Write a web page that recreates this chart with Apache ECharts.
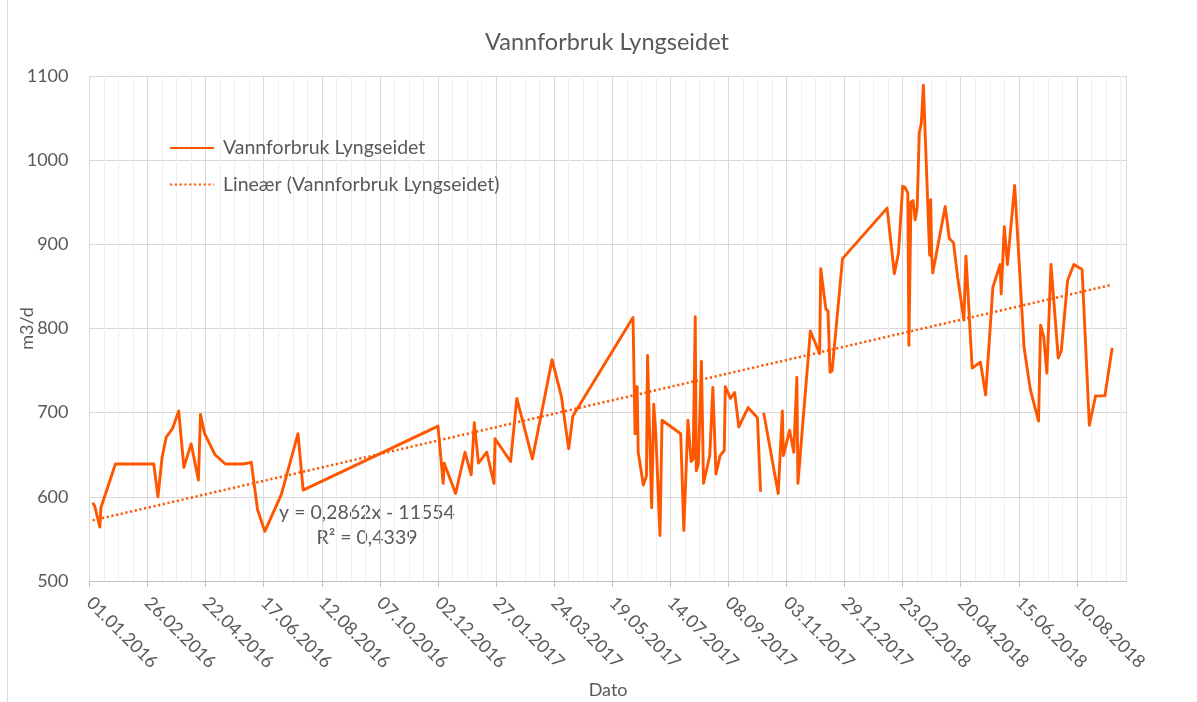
<!DOCTYPE html>
<html>
<head>
<meta charset="utf-8">
<title>Vannforbruk Lyngseidet</title>
<script src="https://cdn.jsdelivr.net/npm/echarts@6/dist/echarts.min.js"></script>
<style>
  html, body { margin: 0; padding: 0; background: #fff; }
  #chart { width: 1197px; height: 702px; }
</style>
</head>
<body>
<div id="chart"></div>
<script>
// dager etter 01.01.2016
const dayNo = [
  3, 5, 10, 11, 25, 62, 66, 70, 74, 80, 86, 91, 98, 105, 107, 111, 121, 131, 148, 156,
  162, 169, 185, 201, 206, 336, 341, 342, 353, 362, 368, 371, 375, 383, 390, 391, 406, 412, 427, 446,
  455, 462, 466, 524, 526, 528, 529, 534, 537, 538, 542, 544, 546, 550, 552, 570, 573, 577, 580, 582,
  584, 585, 587, 590, 592, 598, 601, 604, 608, 612, 613, 618, 622, 626, 635, 644, 647, 648, 650, 664,
  668, 669, 675, 679, 682, 683, 695, 704, 705, 710, 712, 714, 716, 726, 769, 776, 780, 784, 786, 789,
  790, 792, 794, 796, 798, 800, 802, 804, 810, 811, 812, 813, 825, 829, 833, 837, 843, 845, 851, 859,
  864, 871, 878, 879, 882, 885, 892, 896, 901, 907, 915, 917, 920, 923, 927, 934, 937, 943, 949, 957,
  964, 970, 979, 986
];
// m3/d, null = manglende måling
const forbruk = [
  593, 589, 564, 587, 639, 639, 600, 647, 671, 681, 702, 635, 663, 620, 698, 675, 650, 639, 639, 641,
  585, 559, 603, 675, 608, 684, 616, 640, 604, 653, 626, 688, 640, 653, 616, 669, 642, 717, 645, 763,
  719, 657, 696, 813, 675, 731, 653, 614, 625, 768, 587, 710, 675, 554, 691, 675, 560, 691, 642, 645,
  814, 631, 639, 761, 616, 649, 730, 627, 649, 655, 731, 717, 724, 683, 706, 694, 606, null, 700, 604,
  702, 649, 679, 653, 742, 616, 797, 770, 871, 823, 821, 748, 750, 883, 943, 865, 890, 969, 968, 961,
  780, 950, 952, 929, 944, 1032, 1044, 1089, 887, 953, 887, 866, 945, 907, 902, 861, 810, 886, 753, 760,
  721, 849, 876, 841, 921, 876, 970, 885, 778, 728, 690, 804, 790, 747, 876, 765, 774, 857, 876, 870,
  685, 720, 720, 777
];
// lineær trendlinje, endepunkter
const trendDays = [3, 986];
const trendVals = [572, 852];

const seriesName = 'Vannforbruk Lyngseidet';
const trendName = 'Lineær (Vannforbruk Lyngseidet)';
const equation = ['y = 0,2862x - 11554', 'R² = 0,4339'];

const orange = '#ff5700';
const txt = '#595959';
const font = 'Lato';

function dayLabel(d) {
  const t = new Date(Date.UTC(2016, 0, 1) + d * 86400000);
  const dd = String(t.getUTCDate()).padStart(2, '0');
  const mm = String(t.getUTCMonth() + 1).padStart(2, '0');
  return dd + '.' + mm + '.' + t.getUTCFullYear();
}

const lineData = dayNo.map((d, i) => [d, forbruk[i] === null ? '-' : forbruk[i]]);
const trendData = trendDays.map((d, i) => [d, trendVals[i]]);

const myChart = echarts.init(document.getElementById('chart'));
const option = {
  animation: false,
  textStyle: { fontFamily: font },
  grid: { left: 89.5, right: 70.3, top: 76, bottom: 121, containLabel: false, outerBoundsMode: 'none' },
  legend: {
    orient: 'vertical',
    left: 169,
    top: 137,
    padding: 0,
    itemWidth: 44,
    itemHeight: 22,
    itemGap: 14.6,
    itemStyle: { opacity: 0 },
    textStyle: { color: txt, fontSize: 19.5, fontFamily: font, lineHeight: 22, padding: [0, 0, 0, 4] },
    data: [seriesName, trendName]
  },
  xAxis: [
    {
      // minor gridlines, every 14 days
      type: 'value',
      position: 'bottom',
      min: 0,
      max: 1000,
      interval: 14,
      z: 0,
      axisLine: { show: false },
      axisTick: { show: false },
      axisLabel: { show: false },
      splitLine: { show: true, lineStyle: { color: '#efefef', width: 1 } }
    },
    {
      type: 'value',
      position: 'bottom',
      min: 0,
      max: 1000,
      interval: 56,
      z: 1,
      name: 'Dato',
      nameLocation: 'middle',
      nameGap: 100,
      nameTextStyle: { color: txt, fontSize: 18, fontFamily: font },
      axisLine: { show: true, lineStyle: { color: '#bfbfbf', width: 1 } },
      axisTick: { show: true, length: 6, lineStyle: { color: '#bfbfbf' } },
      axisLabel: {
        rotate: -45,
        margin: 19,
        color: txt,
        fontSize: 18,
        fontFamily: font,
        showMaxLabel: false,
        formatter: v => dayLabel(v)
      },
      splitLine: { show: true, lineStyle: { color: '#d9d9d9', width: 1 } }
    }
  ],
  yAxis: {
    type: 'value',
    min: 500,
    max: 1100,
    interval: 100,
    name: 'm3/d',
    nameLocation: 'middle',
    nameGap: 53,
    nameMoveOverlap: false,
    nameTextStyle: { color: txt, fontSize: 18, fontFamily: font },
    axisLine: { show: false },
    axisTick: { show: false },
    axisLabel: { color: txt, fontSize: 18, fontFamily: font, margin: 21, formatter: v => String(v) },
    splitLine: { lineStyle: { color: '#d9d9d9', width: 1 } }
  },
  series: [
    {
      name: seriesName,
      type: 'line',
      xAxisIndex: 1,
      data: lineData,
      symbol: 'none',
      connectNulls: false,
      color: orange,
      lineStyle: { color: orange, width: 2.9, join: 'round' },
      z: 3
    },
    {
      name: trendName,
      type: 'line',
      xAxisIndex: 1,
      data: trendData,
      symbol: 'none',
      color: orange,
      lineStyle: { color: orange, width: 2.5, type: [2.2, 2.6] },
      z: 4
    }
  ],
  graphic: [
    {
      type: 'text',
      style: {
        text: 'Vannforbruk Lyngseidet',
        x: 607, y: 42,
        fill: txt,
        font: '23.5px ' + font,
        textAlign: 'center',
        textVerticalAlign: 'middle'
      }
    },
    {
      type: 'text',
      style: {
        text: equation[0],
        x: 367, y: 513,
        fill: txt,
        font: '19.5px ' + font,
        textAlign: 'center',
        textVerticalAlign: 'middle'
      }
    },
    {
      type: 'text',
      style: {
        text: equation[1],
        x: 367, y: 538,
        fill: txt,
        font: '19.5px ' + font,
        textAlign: 'center',
        textVerticalAlign: 'middle'
      }
    },
    {
      type: 'line',
      shape: { x1: 7.5, y1: 0, x2: 7.5, y2: 702 },
      style: { stroke: '#d9d9d9', lineWidth: 1 }
    }
  ]
};

option && myChart.setOption(option);
</script>
</body>
</html>
